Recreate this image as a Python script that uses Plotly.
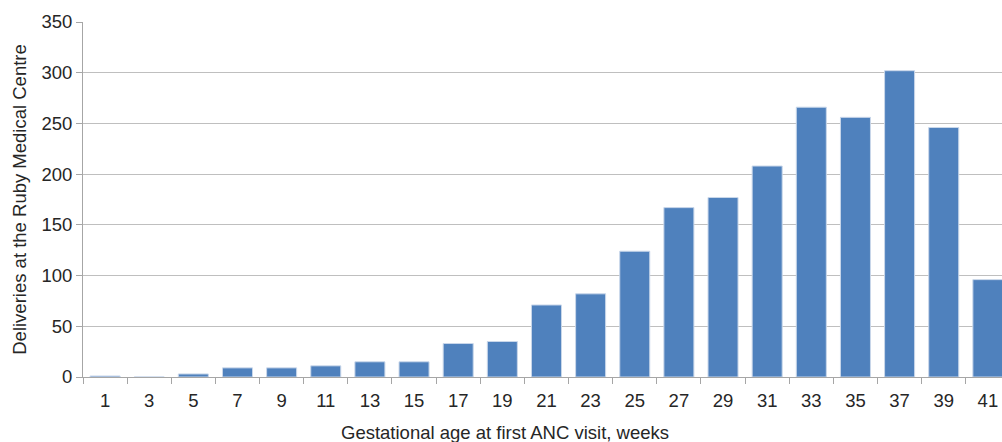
import plotly.graph_objects as go

weeks = [str(w) for w in range(1, 42, 2)]
deliveries = [1, 0, 3, 9, 9, 11, 15, 15, 33, 35, 71, 82, 124, 167, 177, 208, 266, 256, 302, 246, 96]
y_ticks = [0, 50, 100, 150, 200, 250, 300, 350]

fig = go.Figure()
fig.add_trace(go.Bar(
    x=weeks, y=deliveries,
    marker=dict(color="#4F81BD", line=dict(color="#C9D7EA", width=1)),
    width=0.68,
))

font = dict(family="Liberation Sans, Arial, sans-serif", size=18.5, color="#262626")

fig.update_layout(
    width=1002, height=442,
    margin=dict(l=83, r=0, t=22, b=65),
    paper_bgcolor="white", plot_bgcolor="white",
    showlegend=False,
    font=font,
    xaxis=dict(
        type="category",
        range=[-0.5, 20.32],
        tickson="boundaries",
        ticks="outside", ticklen=6, tickcolor="#A6A6A6",
        ticklabelstandoff=7,
        showline=True, linecolor="#A6A6A6", linewidth=1,
        showgrid=False,
        tickfont=font,
    ),
    yaxis=dict(
        range=[0, 350],
        tickvals=y_ticks,
        ticks="outside", ticklen=6, tickcolor="#A6A6A6",
        showline=True, linecolor="#A6A6A6", linewidth=1,
        showgrid=True, gridcolor="#BFBFBF", gridwidth=1,
        zeroline=False,
        tickfont=font,
        title=dict(text="Deliveries at the Ruby Medical Centre", font=font, standoff=9),
    ),
    annotations=[dict(
        text="Gestational age at first ANC visit, weeks",
        xref="paper", yref="paper", x=(505 - 83) / 919, y=0,
        yshift=-55, xanchor="center", yanchor="middle",
        showarrow=False, font=font,
    )],
)

fig.write_html(
    "out.html",
    config={"displayModeBar": False},
    post_script="document.body.style.margin='0';document.body.style.overflow='hidden';",
)
